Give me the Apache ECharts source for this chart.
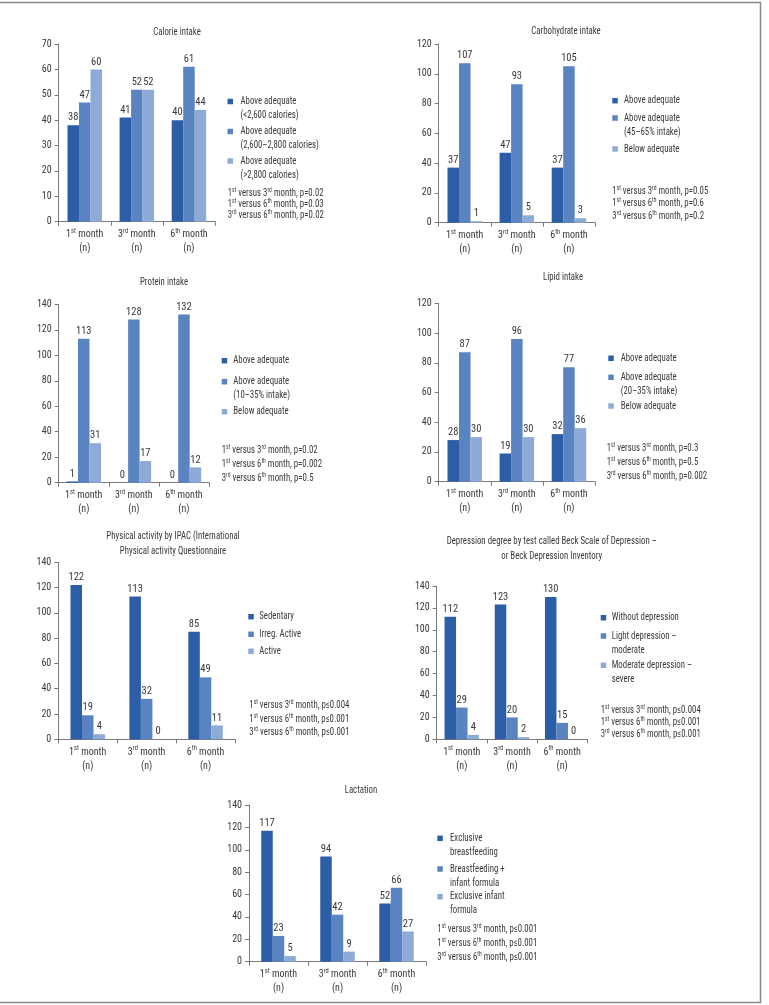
<!DOCTYPE html>
<html><head><meta charset="utf-8">
<script src="https://cdn.jsdelivr.net/npm/echarts@6/dist/echarts.min.js"></script>
<style>html,body{margin:0;padding:0;background:#fff}#c{width:769px;height:1005px}</style>
</head><body><div id="c"></div><script>
// ---------- data ----------
const categories = ['1st month', '3rd month', '6th month'];

const calorieTitle = 'Calorie intake';
const calorieNames = ['Above adequate\n(<2,600 calories)', 'Above adequate\n(2,600–2,800 calories)', 'Above adequate\n(>2,800 calories)'];
const calorieBelow2600 = [38, 41, 40];
const calorie2600to2800 = [47, 52, 61];
const calorieAbove2800 = [60, 52, 44];
const calorieP = ['1st versus 3rd month, p=0.02', '1st versus 6th month, p=0.03', '3rd versus 6th month, p=0.02'];

const carbTitle = 'Carbohydrate intake';
const carbNames = ['Above adequate', 'Above adequate\n(45–65% intake)', 'Below adequate'];
const carbAbove = [37, 47, 37];
const carbAdequate = [107, 93, 105];
const carbBelow = [1, 5, 3];
const carbP = ['1st versus 3rd month, p=0.05', '1st versus 6th month, p=0.6', '3rd versus 6th month, p=0.2'];

const proteinTitle = 'Protein intake';
const proteinNames = ['Above adequate', 'Above adequate\n(10–35% intake)', 'Below adequate'];
const proteinAbove = [1, 0, 0];
const proteinAdequate = [113, 128, 132];
const proteinBelow = [31, 17, 12];
const proteinP = ['1st versus 3rd month, p=0.02', '1st versus 6th month, p=0.002', '3rd versus 6th month, p=0.5'];

const lipidTitle = 'Lipid intake';
const lipidNames = ['Above adequate', 'Above adequate\n(20–35% intake)', 'Below adequate'];
const lipidAbove = [28, 19, 32];
const lipidAdequate = [87, 96, 77];
const lipidBelow = [30, 30, 36];
const lipidP = ['1st versus 3rd month, p=0.3', '1st versus 6th month, p=0.5', '3rd versus 6th month, p=0.002'];

const activityTitle = 'Physical activity by IPAC (International\nPhysical activity Questionnaire';
const activityNames = ['Sedentary', 'Irreg. Active', 'Active'];
const activitySedentary = [122, 113, 85];
const activityIrregular = [19, 32, 49];
const activityActive = [4, 0, 11];
const activityP = ['1st versus 3rd month, p≤0.004', '1st versus 6th month, p≤0.001', '3rd versus 6th month, p≤0.001'];

const depressionTitle = 'Depression degree by test called Beck Scale of Depression –\nor Beck Depression Inventory';
const depressionNames = ['Without depression', 'Light depression –\nmoderate', 'Moderate depression –\nsevere'];
const depressionNone = [112, 123, 130];
const depressionLight = [29, 20, 15];
const depressionModerate = [4, 2, 0];
const depressionP = ['1st versus 3rd month, p≤0.004', '1st versus 6th month, p≤0.001', '3rd versus 6th month, p≤0.001'];

const lactationTitle = 'Lactation';
const lactationNames = ['Exclusive\nbreastfeeding', 'Breastfeeding +\ninfant formula', 'Exclusive infant\nformula'];
const lactationExclusive = [117, 94, 52];
const lactationMixed = [23, 42, 66];
const lactationFormula = [5, 9, 27];
const lactationP = ['1st versus 3rd month, p≤0.001', '1st versus 6th month, p≤0.001', '3rd versus 6th month, p≤0.001'];

const yMax = [70, 120, 140, 120, 140, 140, 140];
const yInterval = [10, 20, 20, 20, 20, 20, 20];

// ---------- panels (data refs) ----------
const panels = [
  {title: calorieTitle, names: calorieNames, values: [calorieBelow2600, calorie2600to2800, calorieAbove2800], p: calorieP},
  {title: carbTitle, names: carbNames, values: [carbAbove, carbAdequate, carbBelow], p: carbP},
  {title: proteinTitle, names: proteinNames, values: [proteinAbove, proteinAdequate, proteinBelow], p: proteinP},
  {title: lipidTitle, names: lipidNames, values: [lipidAbove, lipidAdequate, lipidBelow], p: lipidP},
  {title: activityTitle, names: activityNames, values: [activitySedentary, activityIrregular, activityActive], p: activityP},
  {title: depressionTitle, names: depressionNames, values: [depressionNone, depressionLight, depressionModerate], p: depressionP},
  {title: lactationTitle, names: lactationNames, values: [lactationExclusive, lactationMixed, lactationFormula], p: lactationP}
];

// ---------- layout (positions only) ----------
const layout = [
  {grid: {left: 58.7, top: 44, width: 156.3, height: 177.7}, title: [177, 32], sq: 227.5, tx: 240.5, ly: [101.5, 131.5, 161], px: 227.7, py: [193.5, 204.5, 215.5]},
  {grid: {left: 438.7, top: 44, width: 156.3, height: 178.7}, title: [566, 31], sq: 612.3, tx: 624, ly: [100.7, 118, 149], px: 612.3, py: [191.5, 203.5, 216]},
  {grid: {left: 58.7, top: 304.3, width: 150.3, height: 178.4}, title: [164, 282.7], sq: 221.7, tx: 233.3, ly: [360.7, 381.7, 411.7], px: 221.7, py: [450.7, 464, 478.3]},
  {grid: {left: 438.7, top: 303.3, width: 156.3, height: 178.4}, title: [563, 277], sq: 608.3, tx: 620.7, ly: [358.3, 377.3, 406], px: 606.7, py: [448.3, 462.3, 476]},
  {grid: {left: 58.3, top: 562.3, width: 176.7, height: 177}, title: [173, 536.7], sq: 248.3, tx: 259.3, ly: [616.7, 634.3, 651.3], px: 249.3, py: [705, 719.3, 732.7]},
  {grid: {left: 436.7, top: 586, width: 150.6, height: 153.3}, title: [551.7, 541.7], sq: 600.7, tx: 611.7, ly: [617.7, 636, 665.3], px: 600.7, py: [710.7, 722.3, 734]},
  {grid: {left: 249, top: 805, width: 177, height: 156.7}, title: [361, 790.7], sq: 437.3, tx: 450, ly: [838.3, 869, 896.7], px: 437.3, py: [929.3, 943.3, 957.3]}
];

const FONT = "'Roboto Condensed', 'DejaVu Sans Condensed', sans-serif";
const TXT = '#3a3a3a';
const AXIS = '#7a7a7a';
const colors = ['#2b5ea7', '#5a83c1', '#8eaad7'];
const FS = 10;        // axis / data labels
const GFS = 11;       // free texts (scaled horizontally)
const SX = 0.8;
const supRich = {sup: {fontSize: 7, verticalAlign: 'top', fontFamily: FONT, fill: TXT, lineHeight: 13}};
const toSup = s => s.replace(/(\d)(st|rd|th)\b/g, '$1{sup|$2}');

const grids = [], xAxes = [], yAxes = [], series = [], graphics = [];

panels.forEach((pn, i) => {
  const L = layout[i];
  grids.push(Object.assign({containLabel: false}, L.grid));
  xAxes.push({
    type: 'category', gridIndex: i, data: categories,
    axisLine: {lineStyle: {color: AXIS, width: 1}},
    axisTick: {show: true, length: 4, lineStyle: {color: AXIS}},
    axisLabel: {interval: 0, margin: 6, fontSize: FS, fontFamily: FONT, color: TXT, lineHeight: 14,
      formatter: v => toSup(v) + '\n(n)',
      rich: {sup: {fontSize: 6.5, verticalAlign: 'top', fontFamily: FONT, color: TXT, lineHeight: 13}}}
  });
  yAxes.push({
    type: 'value', gridIndex: i, min: 0, max: yMax[i], interval: yInterval[i],
    axisLine: {show: true, lineStyle: {color: AXIS, width: 1}},
    axisTick: {show: true, length: 4, lineStyle: {color: AXIS}},
    axisLabel: {margin: 7, fontSize: FS, fontFamily: FONT, color: TXT},
    splitLine: {show: false}
  });
  pn.values.forEach((vals, k) => {
    series.push({
      type: 'bar', name: pn.names[k], xAxisIndex: i, yAxisIndex: i, data: vals,
      barWidth: 11.5, barGap: '0%',
      itemStyle: {color: colors[k]},
      label: {show: true, position: 'top', distance: 2, fontSize: FS + 0.5, fontFamily: FONT, color: TXT},
      animation: false
    });
  });
  // title
  graphics.push({type: 'text', x: L.title[0], y: L.title[1] - 7.5, scaleX: SX, silent: true,
    style: {text: pn.title, textAlign: 'center', textVerticalAlign: 'top', fontSize: GFS, fontFamily: FONT, fill: TXT, lineHeight: 15}});
  // legend
  pn.names.forEach((nm, k) => {
    graphics.push({type: 'rect', silent: true, shape: {x: L.sq, y: L.ly[k] - 2.75, width: 5.5, height: 5.5}, style: {fill: colors[k]}});
    graphics.push({type: 'text', x: L.tx, y: L.ly[k] - 7, scaleX: SX, silent: true,
      style: {text: nm, textAlign: 'left', textVerticalAlign: 'top', fontSize: GFS, fontFamily: FONT, fill: TXT, lineHeight: 14}});
  });
  // p-values
  pn.p.forEach((t, k) => {
    graphics.push({type: 'text', x: L.px, y: L.py[k] - 6.5, scaleX: SX, silent: true,
      style: {text: toSup(t), rich: supRich, textAlign: 'left', textVerticalAlign: 'top', fontSize: GFS, fontFamily: FONT, fill: TXT, lineHeight: 13}});
  });
});

// frame
graphics.push({type: 'polyline', silent: true, shape: {points: [[0, 2.5], [760.5, 2.5], [760.5, 1002.5], [0, 1002.5]]},
  style: {stroke: '#8a8a8a', lineWidth: 1.5, fill: null}});

const chart = echarts.init(document.getElementById('c'), null, {renderer: 'canvas'});
chart.setOption({
  animation: false,
  backgroundColor: '#fff',
  grid: grids, xAxis: xAxes, yAxis: yAxes, series: series, graphic: graphics
});
</script></body></html>
